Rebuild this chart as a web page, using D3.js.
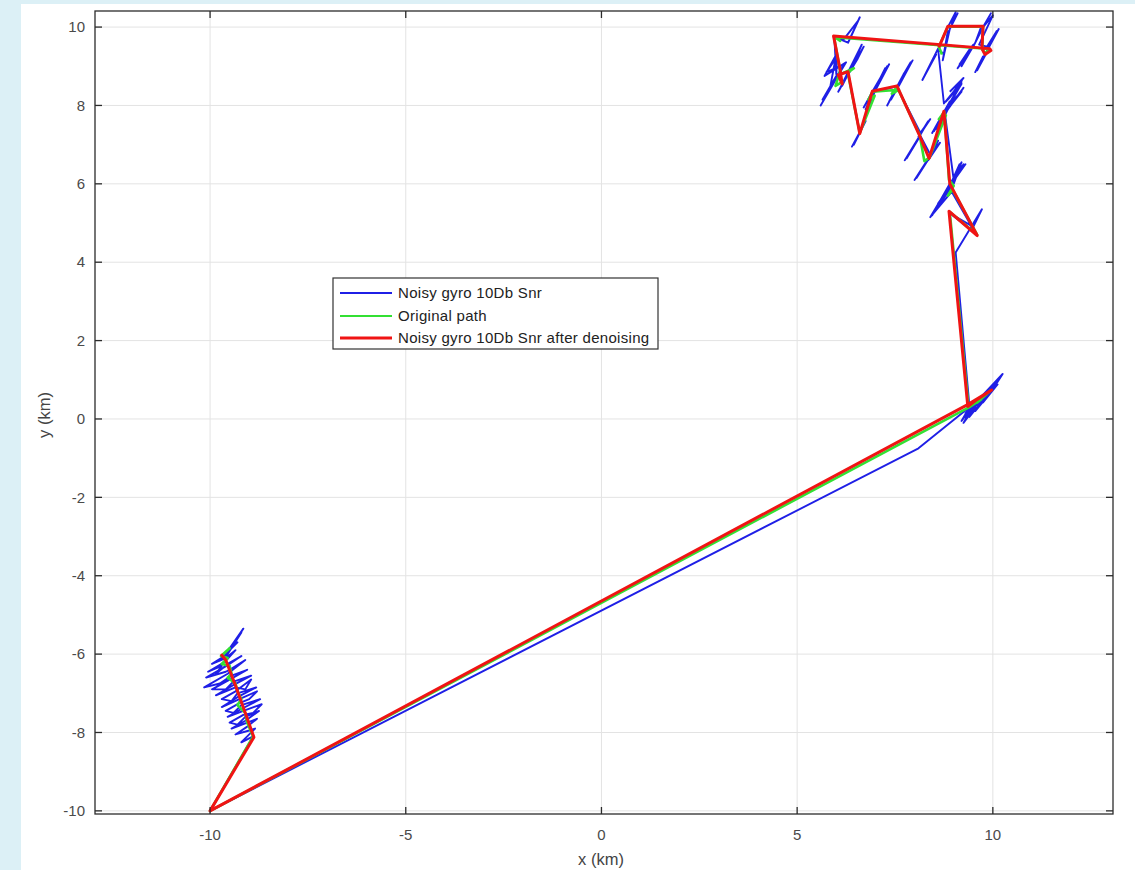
<!DOCTYPE html>
<html>
<head>
<meta charset="utf-8">
<script src="https://cdn.jsdelivr.net/npm/d3@7"></script>
<style>
  html, body { margin: 0; padding: 0; background: #dcf0f6; }
  svg { display: block; }
  text { font-family: "Liberation Sans", Arial, Helvetica, sans-serif; }
</style>
</head>
<body>
<svg id="chart" width="1135" height="870"></svg>
<script>
// Axis ticks (km)
const xTicks = [-10, -5, 0, 5, 10];
const yTicks = [-10, -8, -6, -4, -2, 0, 2, 4, 6, 8, 10];

// Legend entries
const seriesNames = ["Noisy gyro 10Db Snr", "Original path", "Noisy gyro 10Db Snr after denoising"];
const seriesColors = ["#1f1fe6", "#33e033", "#f01414"];

// Original trajectory [x, y] in km
const originalPath = [
  [-9.68,-6.02],[-9.5,-5.85],[-9.72,-6.05],[-9.55,-6.1],[-9.7,-6.25],[-9.5,-6.3],[-9.45,-6.5],
  [-9.55,-6.6],[-9.35,-6.75],[-9.3,-6.95],[-9.2,-7.15],[-9.3,-7.3],[-9.1,-7.5],[-9.05,-7.75],
  [-8.9,-8.1],
  [-10.0,-10.0],
  [9.4,0.3],[9.7,0.5],[9.6,0.42],[9.95,0.73],[9.38,0.3],
  [8.9,5.28],[9.6,4.7],[8.97,5.85],[8.85,5.7],[9.0,5.95],[8.88,6.1],
  [8.76,7.84],[8.62,7.65],[8.8,7.75],[8.38,6.67],[8.25,6.58],[8.13,7.25],[7.55,8.48],[7.42,8.3],
  [7.6,8.4],[6.93,8.35],[6.82,8.15],[6.98,8.25],[6.6,7.3],[6.33,8.65],[6.3,8.84],[6.45,8.95],
  [6.05,8.77],[6.15,8.6],[5.98,8.5],[6.1,8.88],[5.94,9.76],[6.1,9.65],[5.96,9.74],
  [9.9,9.44],[9.8,9.32],[9.73,9.44],[9.75,10.01],[8.85,10.01],[8.62,9.5],[8.7,9.3]
];

// Trajectory rebuilt from the noisy gyro after denoising
const denoisedPath = [
  [-9.72,-6.0],[-9.6,-6.15],[-9.35,-6.8],[-9.1,-7.5],[-8.88,-8.12],
  [-10.0,-10.0],
  [9.38,0.38],[9.97,0.74],[9.6,0.5],[9.36,0.32],
  [8.88,5.3],[9.6,4.68],[8.97,5.87],[8.9,6.0],
  [8.75,7.85],[8.37,6.65],[8.12,7.25],[7.55,8.5],[6.92,8.36],[6.6,7.28],
  [6.35,8.6],[6.3,8.86],[6.05,8.78],[6.15,8.55],[6.1,8.9],[5.93,9.77],
  [9.92,9.45],[9.95,9.4],[9.8,9.3],[9.72,9.45],[9.75,10.02],[8.85,10.02],[8.62,9.48]
];

// Trajectory integrated from the noisy gyro (10 dB SNR)
const noisyPath = [
  // start area, south-west
  [-9.65,-6.05],[-9.3,-5.7],[-9.5,-5.85],[-9.15,-5.35],[-9.45,-5.8],[-9.2,-5.45],[-9.55,-6.0],
  [-9.95,-6.25],[-9.6,-6.1],[-9.35,-5.9],[-9.62,-6.2],[-10.05,-6.45],[-9.7,-6.3],[-9.85,-6.5],
  [-9.55,-6.25],[-9.2,-6.05],[-9.58,-6.3],[-10.1,-6.6],[-9.6,-6.45],[-9.5,-6.4],[-9.1,-6.15],
  [-9.55,-6.5],[-10.15,-6.85],[-9.75,-6.75],[-9.45,-6.55],[-9.05,-6.4],[-9.5,-6.65],[-9.95,-6.9],
  [-9.6,-6.9],[-9.4,-6.7],[-8.95,-6.55],[-9.42,-6.8],[-9.85,-7.05],[-9.35,-6.85],[-9.1,-6.9],
  [-8.95,-6.65],[-9.35,-6.95],[-9.7,-7.15],[-9.45,-7.2],[-9.3,-7.0],[-8.82,-6.85],[-9.3,-7.1],
  [-9.7,-7.35],[-9.25,-7.15],[-8.8,-6.95],[-9.0,-7.15],[-9.25,-7.25],[-9.6,-7.45],[-9.4,-7.5],
  [-9.2,-7.3],[-8.72,-7.15],[-9.2,-7.4],[-9.55,-7.6],[-9.15,-7.45],[-8.68,-7.28],[-8.9,-7.5],
  [-9.15,-7.55],[-9.5,-7.75],[-9.3,-7.8],[-9.1,-7.6],[-8.75,-7.45],[-9.1,-7.7],[-9.45,-7.9],
  [-9.05,-7.75],[-8.8,-7.65],[-9.05,-7.85],[-9.35,-8.05],[-9.0,-7.95],[-8.85,-7.9],[-9.05,-8.1],
  [-9.2,-8.25],[-8.9,-8.1],
  // long leg north-east
  [-10.0,-10.0],[8.1,-0.75],[9.4,0.3],
  [9.2,-0.05],[9.5,0.35],[9.25,-0.1],[9.55,0.3],[9.3,0.15],[9.65,0.5],[9.4,0.05],[9.72,0.45],
  [9.45,0.3],[9.85,0.72],[9.55,0.2],[9.9,0.62],[9.65,0.5],[10.05,0.9],[9.75,0.42],[10.12,0.88],
  [9.85,0.72],[10.25,1.15],[9.95,0.68],[10.1,0.98],[9.7,0.55],[9.9,0.62],[9.45,0.25],[9.6,0.3],
  [9.3,0.05],[9.4,0.35],
  // climb north and first turns
  [9.05,4.25],[9.72,5.35],[9.5,4.9],[8.9,5.25],[9.55,4.75],
  [8.95,5.8],[8.4,5.15],[8.85,5.9],[8.45,5.2],[8.9,5.95],[9.15,6.5],[8.95,6.0],[9.2,6.45],
  [8.9,6.0],[8.5,5.3],[8.95,6.05],[8.55,5.35],[9.0,6.0],[9.2,6.55],[9.05,6.2],[9.25,6.5],
  [8.95,6.0],[8.6,5.5],[9.05,6.15],[9.3,6.5],[8.9,5.95],[8.7,5.55],[9.0,6.1],
  [8.77,7.83],[8.55,7.4],[8.95,8.15],[9.15,8.5],[8.8,7.9],[9.2,8.55],[8.85,7.95],[8.45,7.3],
  [8.9,8.1],[8.5,7.35],[8.9,8.05],[9.2,8.35],[8.8,7.85],[9.25,8.45],[8.85,7.9],[8.6,7.45],
  [9.0,8.2],[8.65,7.5],[8.75,7.75],
  [8.39,6.68],[8.0,6.1],[8.45,6.8],[8.05,6.15],[8.4,6.7],[8.6,7.1],[8.35,6.6],[8.65,7.05],
  [8.4,6.75],
  [8.14,7.24],[7.75,6.6],[8.1,7.15],[7.8,6.65],[8.12,7.2],[8.35,7.6],[8.1,7.2],[8.4,7.65],
  [8.15,7.3],
  [7.55,8.47],[7.3,8.0],[7.75,8.85],[7.9,9.1],[7.6,8.5],[7.35,8.1],[7.72,8.8],[7.85,9.0],
  [7.55,8.45],[7.4,8.15],[7.65,8.6],[7.95,9.15],[7.6,8.5],
  [6.94,8.34],[6.75,7.9],[7.1,8.6],[7.3,9.0],[6.95,8.4],[6.7,7.95],[7.05,8.55],[7.25,8.95],
  [6.94,8.3],[6.8,8.0],[7.0,8.45],[7.35,9.05],[6.98,8.35],
  [6.61,7.32],[6.4,6.95],[6.75,7.6],[6.45,7.0],[6.6,7.3],
  [6.3,8.83],[6.05,8.35],[6.5,9.2],[6.65,9.55],[6.3,8.85],[6.1,8.45],[6.55,9.2],[6.7,9.5],
  [6.3,8.8],[6.15,8.5],[6.4,9.0],[6.08,8.4],[6.35,8.9],
  [6.05,8.77],[5.6,8.0],[6.1,8.85],[5.8,8.35],[6.25,9.1],[5.7,8.75],[6.0,9.3],[5.85,8.5],
  [6.0,8.75],[5.65,8.15],[6.05,8.8],[5.75,8.3],[6.2,9.05],[5.75,8.85],[6.02,9.25],[6.0,8.8],
  [5.95,9.75],[6.3,9.6],[6.6,10.25],[6.35,9.7],[6.55,10.15],[6.2,9.7],[5.95,9.75],
  // north-east corner
  [9.9,9.45],[9.6,8.9],[9.75,9.25],[9.55,8.85],[9.8,9.3],[10.15,9.95],[9.9,9.5],[10.1,9.9],
  [9.85,9.5],[9.65,9.55],[10.0,10.3],[9.75,10.0],[9.95,10.35],[9.7,9.9],[9.5,9.5],[9.1,8.95],
  [9.45,9.5],[9.15,9.05],[9.5,9.55],[9.2,9.0],[9.55,9.6],[9.7,10.0],
  [8.85,10.0],[9.05,10.38],[8.95,10.1],[9.1,10.35],[8.9,9.95],[8.72,9.15],[8.85,9.9],[8.75,9.3],
  [8.6,9.45],[8.2,8.65],[8.55,9.3],[8.25,8.75],[8.6,9.45],[8.75,8.05],[9.2,8.6],[8.8,8.1],
  [9.15,8.5],[8.85,8.15],[9.25,8.7],[8.9,8.35]
];

const svg = d3.select("#chart");

// white figure panel
svg.append("rect").attr("x", 21).attr("y", 4).attr("width", 1114).attr("height", 866).attr("fill", "#ffffff");

const plotLeft = 95, plotRight = 1113, plotTop = 11, plotBottom = 814;
const x = d3.scaleLinear().domain([-12.94, 13.07]).range([plotLeft, plotRight]);
const y = d3.scaleLinear().domain([-10.08, 10.41]).range([plotBottom, plotTop]);

// grid
const grid = svg.append("g").attr("stroke", "#e3e3e3").attr("stroke-width", 1);
grid.selectAll("line.gx").data(xTicks).join("line").attr("class", "gx")
  .attr("x1", d => x(d)).attr("x2", d => x(d)).attr("y1", plotTop).attr("y2", plotBottom);
grid.selectAll("line.gy").data(yTicks).join("line").attr("class", "gy")
  .attr("y1", d => y(d)).attr("y2", d => y(d)).attr("x1", plotLeft).attr("x2", plotRight);

// data lines, clipped to the axes box
svg.append("clipPath").attr("id", "plotClip").append("rect")
  .attr("x", plotLeft).attr("y", plotTop).attr("width", plotRight - plotLeft).attr("height", plotBottom - plotTop);
const plot = svg.append("g").attr("clip-path", "url(#plotClip)");
const line = d3.line().x(d => x(d[0])).y(d => y(d[1]));

plot.append("path").datum(noisyPath).attr("d", line)
  .attr("fill", "none").attr("stroke", seriesColors[0]).attr("stroke-width", 1.9)
  .attr("stroke-linejoin", "round");
plot.append("path").datum(originalPath).attr("d", line)
  .attr("fill", "none").attr("stroke", seriesColors[1]).attr("stroke-width", 2.6)
  .attr("stroke-linejoin", "round");
plot.append("path").datum(denoisedPath).attr("d", line)
  .attr("fill", "none").attr("stroke", seriesColors[2]).attr("stroke-width", 3)
  .attr("stroke-linejoin", "round");

// axes box with inward ticks
const axisColor = "#2b2b2b";
const tickLen = 7;
const axes = svg.append("g").attr("stroke", axisColor).attr("stroke-width", 1.3);
axes.append("rect").attr("x", plotLeft).attr("y", plotTop).attr("width", plotRight - plotLeft)
  .attr("height", plotBottom - plotTop).attr("fill", "none");
xTicks.forEach(t => {
  axes.append("line").attr("x1", x(t)).attr("x2", x(t)).attr("y1", plotBottom).attr("y2", plotBottom - tickLen);
  axes.append("line").attr("x1", x(t)).attr("x2", x(t)).attr("y1", plotTop).attr("y2", plotTop + tickLen);
});
yTicks.forEach(t => {
  axes.append("line").attr("y1", y(t)).attr("y2", y(t)).attr("x1", plotLeft).attr("x2", plotLeft + tickLen);
  axes.append("line").attr("y1", y(t)).attr("y2", y(t)).attr("x1", plotRight).attr("x2", plotRight - tickLen);
});

// tick labels
const tickColor = "#4a4a4a";
svg.append("g").selectAll("text").data(xTicks).join("text")
  .attr("x", d => x(d)).attr("y", 840).attr("text-anchor", "middle")
  .attr("font-size", 15).attr("fill", tickColor).text(d => d);
svg.append("g").selectAll("text").data(yTicks).join("text")
  .attr("x", 85).attr("y", d => y(d) + 5.2).attr("text-anchor", "end")
  .attr("font-size", 15).attr("fill", tickColor).text(d => d);

// axis titles
svg.append("text").attr("x", 601).attr("y", 865).attr("text-anchor", "middle")
  .attr("font-size", 16.5).attr("fill", "#444").text("x (km)");
svg.append("text").attr("transform", "translate(50,415) rotate(-90)").attr("text-anchor", "middle")
  .attr("font-size", 16.5).attr("fill", "#444").text("y (km)");

// legend
const lg = svg.append("g");
lg.append("rect").attr("x", 333).attr("y", 278).attr("width", 325).attr("height", 71)
  .attr("fill", "#ffffff").attr("stroke", "#333").attr("stroke-width", 1.2);
const rowY = [293, 316, 338];
seriesNames.forEach((name, i) => {
  lg.append("line").attr("x1", 340).attr("x2", 392).attr("y1", rowY[i]).attr("y2", rowY[i])
    .attr("stroke", seriesColors[i]).attr("stroke-width", i === 2 ? 2.8 : 1.8);
  lg.append("text").attr("x", 398).attr("y", rowY[i] + 5).attr("font-size", 15)
    .attr("letter-spacing", 0.3).attr("fill", "#222").text(name);
});
</script>
</body>
</html>
